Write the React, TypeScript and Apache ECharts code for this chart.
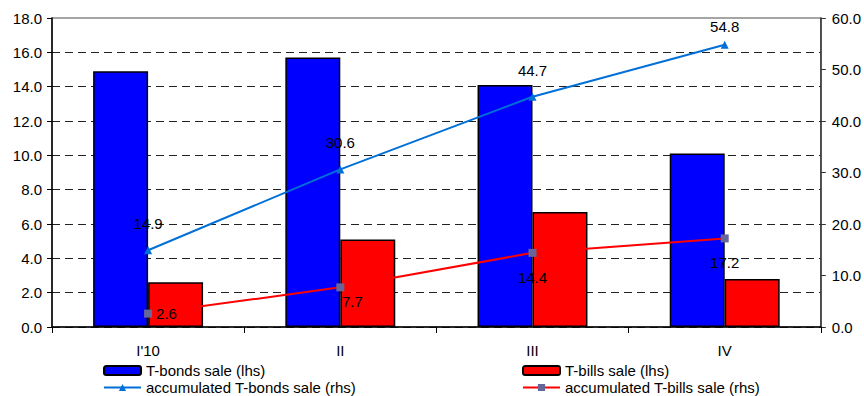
import React, { useEffect, useRef } from "react";
import * as echarts from "echarts";

const quarters = ["I'10", "II", "III", "IV"];
const bondsSale = [14.9, 15.7, 14.1, 10.1];
const billsSale = [2.6, 5.1, 6.7, 2.8];
const bondsAccum = [14.9, 30.6, 44.7, 54.8];
const billsAccum = [2.6, 7.7, 14.4, 17.2];

const FONT = "'Liberation Sans', Arial, sans-serif";

// per-point label placement tweaks for the cumulative lines
const bondsLabelTweaks: Record<number, any> = { 3: { distance: 7 } };
const billsLabelTweaks: Record<number, any> = {
  0: { position: "right", distance: 4 },
  1: { distance: 3, offset: [12, 0] },
};

export default function App() {
  const ref = useRef<HTMLDivElement>(null);

  useEffect(() => {
    const chart = echarts.init(ref.current!, undefined, { renderer: "svg" });
    const gridColors = Array.from({ length: 9 }, () => "#222").concat(["rgba(0,0,0,0)"]);
    const fmt = (p: any) => Number(p.value).toFixed(1);
    const legendBase = {
      top: 363,
      height: 60,
      orient: "vertical",
      padding: 0,
      itemGap: 2,
      itemWidth: 37,
      itemHeight: 9,
      textStyle: { fontFamily: FONT, fontSize: 15, color: "#000" },
    };
    chart.setOption({
      animation: false,
      textStyle: { fontFamily: FONT, fontSize: 15, color: "#000" },
      grid: {
        left: 52,
        right: 43,
        top: 18,
        bottom: 69,
        show: true,
        borderColor: "#888",
        borderWidth: 1.5,
      },
      legend: [
        { ...legendBase, left: 103, data: ["T-bonds sale (lhs)", "accumulated T-bonds sale (rhs)"] },
        { ...legendBase, left: 522, data: ["T-bills sale (lhs)", "accumulated T-bills sale (rhs)"] },
      ],
      xAxis: {
        type: "category",
        data: quarters,
        axisLine: { lineStyle: { color: "#000", width: 1.5 } },
        axisTick: { show: true, length: 6, lineStyle: { color: "#000" } },
        axisLabel: { color: "#000", fontSize: 15, fontFamily: FONT, margin: 16 },
      },
      yAxis: [
        {
          type: "value",
          min: 0,
          max: 18,
          interval: 2,
          axisLine: { show: true, lineStyle: { color: "#000", width: 1.5 } },
          axisTick: { show: true, length: 5, lineStyle: { color: "#000" } },
          axisLabel: {
            color: "#000",
            fontSize: 15,
            fontFamily: FONT,
            margin: 10,
            formatter: (v: number) => v.toFixed(1),
          },
          splitLine: {
            show: true,
            lineStyle: { color: gridColors, type: [8, 5], width: 1 },
          },
        },
        {
          type: "value",
          min: 0,
          max: 60,
          interval: 10,
          position: "right",
          axisLine: { show: true, lineStyle: { color: "#333", width: 1.5 } },
          axisTick: { show: true, length: 5, lineStyle: { color: "#333" } },
          axisLabel: {
            color: "#000",
            fontSize: 15,
            fontFamily: FONT,
            margin: 11,
            formatter: (v: number) => v.toFixed(1),
          },
          splitLine: { show: false },
        },
      ],
      series: [
        {
          name: "T-bonds sale (lhs)",
          type: "bar",
          yAxisIndex: 0,
          data: bondsSale,
          barWidth: "28.6%",
          barGap: "0%",
          itemStyle: { color: "#0000FF", borderColor: "#000", borderWidth: 1.5 },
        },
        {
          name: "T-bills sale (lhs)",
          type: "bar",
          yAxisIndex: 0,
          data: billsSale,
          barWidth: "28.6%",
          barGap: "0%",
          itemStyle: { color: "#FF0000", borderColor: "#000", borderWidth: 1.5 },
        },
        {
          name: "accumulated T-bonds sale (rhs)",
          type: "line",
          yAxisIndex: 1,
          data: bondsAccum.map((v, i) =>
            bondsLabelTweaks[i] ? { value: v, label: bondsLabelTweaks[i] } : v
          ),
          symbol: "triangle",
          symbolSize: 8,
          lineStyle: { color: "#0070D8", width: 2 },
          itemStyle: { color: "#0070D8" },
          label: {
            show: true,
            position: "top",
            distance: 15,
            color: "#000",
            fontSize: 15,
            fontFamily: FONT,
            formatter: fmt,
          },
          z: 5,
        },
        {
          name: "accumulated T-bills sale (rhs)",
          type: "line",
          yAxisIndex: 1,
          data: billsAccum.map((v, i) =>
            billsLabelTweaks[i] ? { value: v, label: billsLabelTweaks[i] } : v
          ),
          symbol: "rect",
          symbolSize: 8,
          lineStyle: { color: "#FF0000", width: 2 },
          itemStyle: { color: "#666699" },
          label: {
            show: true,
            position: "bottom",
            distance: 13,
            color: "#000",
            fontSize: 15,
            fontFamily: FONT,
            formatter: fmt,
          },
          z: 5,
        },
      ],
    });
    return () => chart.dispose();
  }, []);

  return (
    <div
      ref={ref}
      style={{ position: "fixed", left: 0, top: 0, width: 864, height: 396, background: "#fff" }}
    />
  );
}
